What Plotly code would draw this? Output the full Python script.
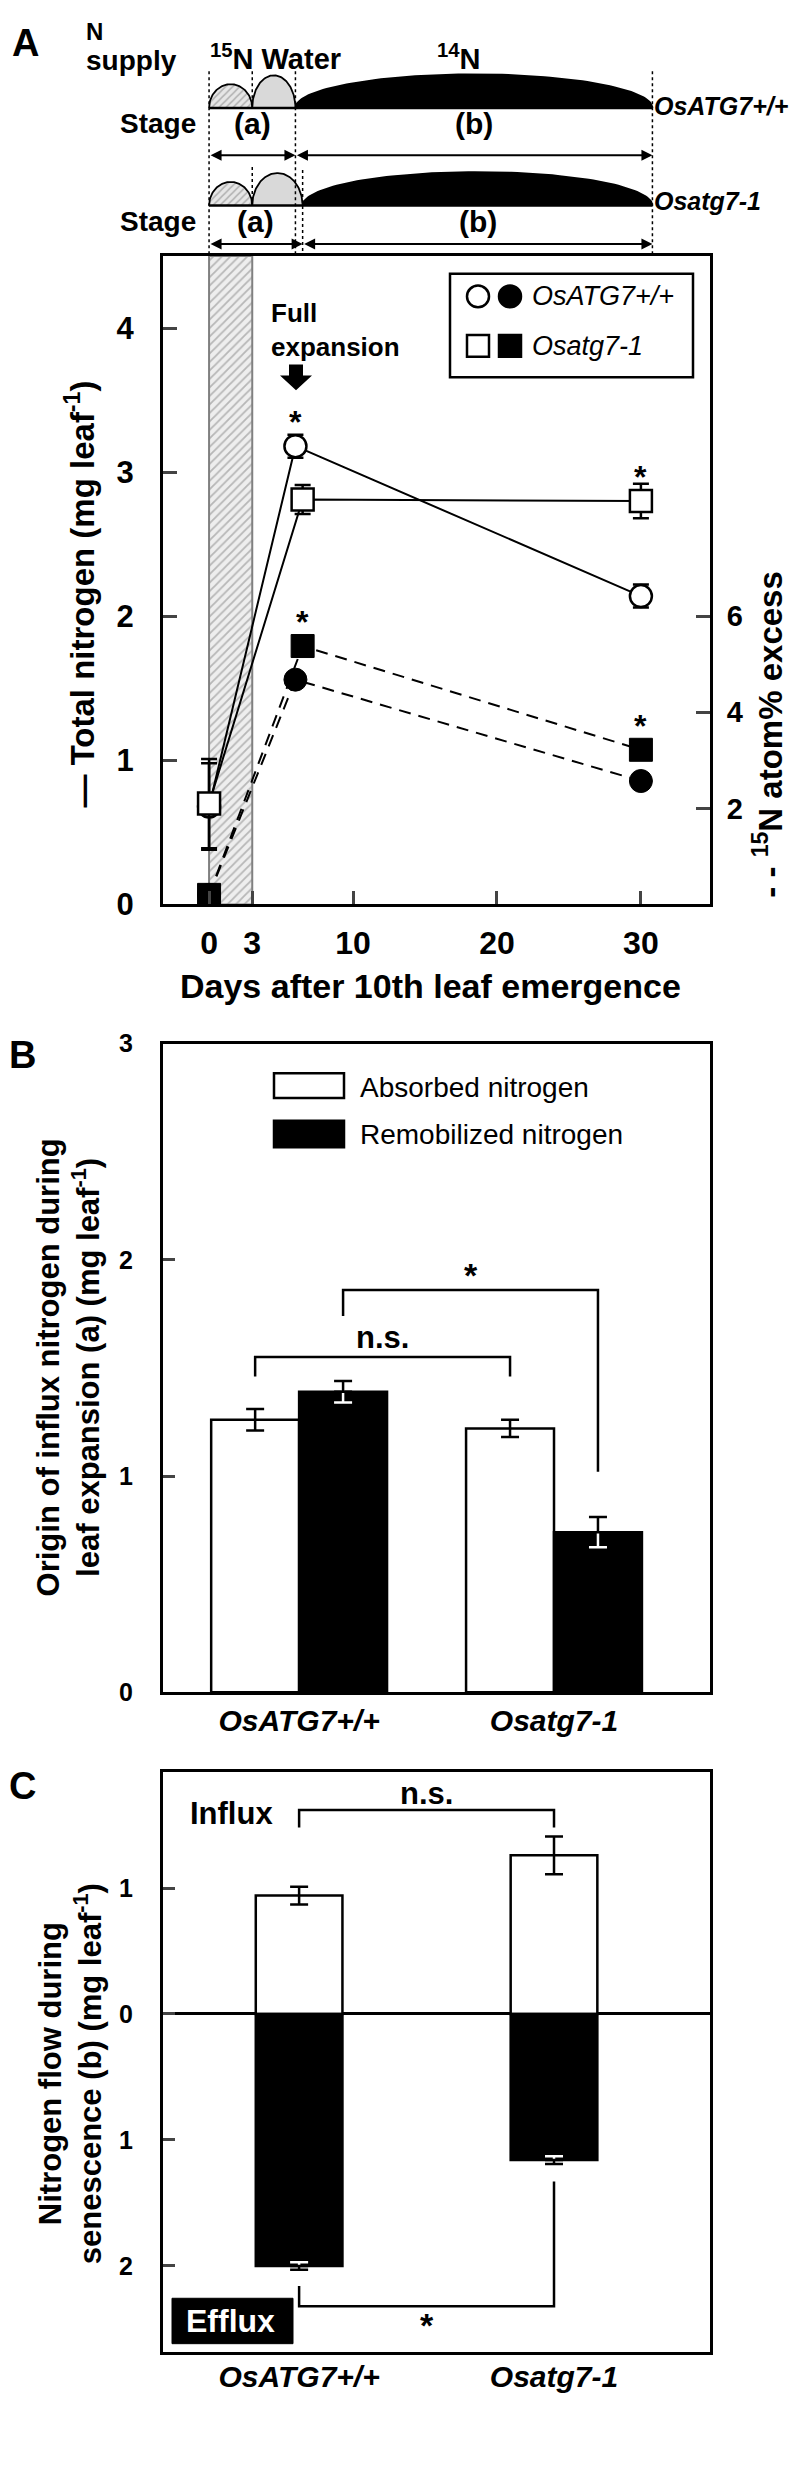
import numpy as np
import plotly.graph_objects as go

W, H = 797, 2482
def fx(px): return px / W
def fy(py): return 1 - py / H

# ---------------- Data: panel A ----------------
days_wt = [0, 6, 30]
total_n_wt = [0.68, 3.18, 2.14]
total_n_wt_err = [0.30, 0.08, 0.08]
atom_wt = [0.20, 4.68, 2.57]

days_mut = [0, 6.5, 30]
total_n_mut = [0.70, 2.81, 2.80]
total_n_mut_err = [0.31, 0.10, 0.12]
atom_mut = [0.20, 5.38, 3.22]

x_ticks_a = [0, 3, 10, 20, 30]
y_ticks_a = [0, 1, 2, 3, 4]
y2_ticks_a = [2, 4, 6]
label_period = [0, 3]          # 15N labelling (days)

# schematic stage boundaries (days)
stage_wt = [0, 3, 6, 30.8]
stage_mut = [0, 3, 6.5, 30.8]

# ---------------- Data: panel B ----------------
genotypes = ["OsATG7+/+", "Osatg7-1"]
absorbed = [1.26, 1.22]
absorbed_err = [0.05, 0.04]
remobilized = [1.39, 0.74]
remobilized_err = [0.05, 0.07]

# ---------------- Data: panel C ----------------
influx = [0.94, 1.26]
influx_err = [0.07, 0.15]
efflux = [2.00, 1.16]
efflux_err = [0.03, 0.03]

BOLD = "Liberation Sans, Arial, sans-serif"

fig = go.Figure()

# ---------- Schematic (top) ----------
def hump(x0, x1, h, base, n=90):
    t = np.linspace(0, np.pi, n)
    xs = (x0 + x1) / 2 - (x1 - x0) / 2 * np.cos(t)
    ys = base - h * np.sin(t)
    return xs, ys

for bounds, base in [(stage_wt, 87), (stage_mut, 186)]:
    heights = [24, 33, 34]
    fills = [None, '#d9d9d9', 'black']
    for i in range(3):
        xs, ys = hump(bounds[i], bounds[i + 1], heights[i], base)
        kw = dict(fillcolor=fills[i]) if fills[i] else dict(
            fillpattern=dict(shape='/', fgcolor='#7a7a7a', bgcolor='#e6e6e6', size=5, solidity=0.3))
        fig.add_trace(go.Scatter(x=xs, y=ys, mode='lines', fill='toself',
                                 line=dict(color='black', width=1.8), xaxis='x4', yaxis='y5',
                                 showlegend=False, hoverinfo='skip', **kw))
    fig.add_trace(go.Scatter(x=[bounds[0], bounds[-1]], y=[base, base], mode='lines',
                             line=dict(color='black', width=2.5), xaxis='x4', yaxis='y5',
                             showlegend=False, hoverinfo='skip'))

dx, dy = [], []
for xv, y0, y1 in [(stage_wt[0], 50, 237), (stage_wt[1], 50, 88), (stage_wt[2], 50, 237),
                   (stage_wt[3], 50, 237), (stage_mut[1], 147, 187), (stage_mut[2], 150, 237)]:
    dx += [xv, xv, None]
    dy += [y0, y1, None]
fig.add_trace(go.Scatter(x=dx, y=dy, mode='lines', line=dict(color='black', width=1.5, dash='dot'),
                         xaxis='x4', yaxis='y5', showlegend=False, hoverinfo='skip'))

annotations = []
shapes = []

def ann(text, x, y, size, weight='bold', xanchor='center', yanchor='middle',
        xref='paper', yref='paper', color='black', style='normal', textangle=0, align='center'):
    if xref == 'paper':
        x = fx(x)
    if yref == 'paper':
        y = fy(y)
    annotations.append(dict(text=text, x=x, y=y, xref=xref, yref=yref, showarrow=False,
                            xanchor=xanchor, yanchor=yanchor, textangle=textangle, align=align,
                            font=dict(family=BOLD, size=size, color=color, weight=weight, style=style)))

for bounds, yarr, ytxt, ylab, name in [(stage_wt, 135, 103, 85, genotypes[0]),
                                        (stage_mut, 225, 202, 181, genotypes[1])]:
    for a, b in [(bounds[0], bounds[2]), (bounds[2], bounds[3])]:
        annotations.append(dict(x=b, y=yarr, ax=a, ay=yarr, xref='x4', yref='y5', axref='x4', ayref='y5',
                                text='', showarrow=True, arrowhead=2, arrowside='end+start',
                                arrowsize=1.1, arrowwidth=2, arrowcolor='black', standoff=0, startstandoff=0))
    ann('Stage', 150, ytxt, 28)
    ann('(a)', (bounds[0] + bounds[2]) / 2, ytxt, 30, xref='x4')
    ann('(b)', (bounds[2] + bounds[3]) / 2, ytxt, 30, xref='x4')
    ann(name, 644, ylab, 25, style='italic', xanchor='left')

ann('A', 17, 21, 38)
ann('N', 76, 10, 24, xanchor='left')
ann('supply', 76, 39, 28, xanchor='left')
ann('<sup>15</sup>N Water', 200, 35, 29, xanchor='left')
ann('<sup>14</sup>N', 451, 35, 29)

# ---------- Panel A ----------
fig.add_trace(go.Bar(x=[np.mean(label_period)], y=[4.5], width=[label_period[1] - label_period[0]],
                     base=0, xaxis='x', yaxis='y', showlegend=False, hoverinfo='skip',
                     marker=dict(color='#e6e6e6', line=dict(color='#808080', width=2),
                                 pattern=dict(shape='/', fgcolor='#808080', bgcolor='#eeeeee',
                                              size=6, solidity=0.3))))

for xs, ys, sym in [(days_wt, atom_wt, 'circle'), (days_mut, atom_mut, 'square')]:
    fig.add_trace(go.Scatter(x=xs, y=ys, mode='lines+markers', xaxis='x', yaxis='y2',
                             line=dict(color='black', width=2, dash='12px,8px'),
                             marker=dict(symbol=sym, size=23, color='black', line=dict(color='black', width=1)),
                             showlegend=False))
for xs, ys, es, sym in [(days_wt, total_n_wt, total_n_wt_err, 'circle'),
                        (days_mut, total_n_mut, total_n_mut_err, 'square')]:
    fig.add_trace(go.Scatter(x=xs, y=ys, mode='lines+markers', xaxis='x', yaxis='y',
                             line=dict(color='black', width=2),
                             error_y=dict(type='data', array=es, color='black', thickness=2.5, width=8),
                             marker=dict(symbol=sym, size=22, color='white', line=dict(color='black', width=2.5)),
                             showlegend=False))

# significance stars (panel A)
for xv, yv, yr in [(days_wt[1], total_n_wt[1], 'y'), (days_mut[1], atom_mut[1], 'y2'),
                   (days_mut[2], total_n_mut[2], 'y'), (days_mut[2], atom_mut[2], 'y2')]:
    annotations.append(dict(text='*', x=xv, y=yv, xref='x', yref=yr, showarrow=False, yshift=24,
                            font=dict(family=BOLD, size=32, color='black', weight='bold')))

# full expansion label + block arrow
ann('Full<br>expansion', 261, 312, 26, xanchor='left', align='left')
ax0 = 288
pts = [(ax0 - 7, 347), (ax0 + 7, 347), (ax0 + 7, 358), (ax0 + 16, 358), (ax0, 373), (ax0 - 16, 358), (ax0 - 7, 358)]
shapes.append(dict(type='path', xref='paper', yref='paper', fillcolor='black', line=dict(width=0),
                   path='M ' + ' L '.join(f'{fx(a)},{fy(b)}' for a, b in pts) + ' Z'))

# legend box (panel A)
shapes.append(dict(type='rect', xref='paper', yref='paper', x0=fx(442), x1=fx(685), y0=fy(255), y1=fy(360),
                   line=dict(color='black', width=2.5), fillcolor='white'))
r = 11
for cx, cy, kind, fill in [(470, 278, 'circle', 'white'), (502, 278, 'circle', 'black'),
                           (470, 328, 'rect', 'white'), (502, 328, 'rect', 'black')]:
    shapes.append(dict(type=kind, xref='paper', yref='paper', x0=fx(cx - r), x1=fx(cx + r),
                       y0=fy(cy - r), y1=fy(cy + r), fillcolor=fill, line=dict(color='black', width=2.5)))
ann(genotypes[0], 522, 278, 27, weight='normal', style='italic', xanchor='left')
ann(genotypes[1], 522, 328, 27, weight='normal', style='italic', xanchor='left')

ann('— Total nitrogen (mg leaf<sup>-1</sup>)', 72, 580, 33, textangle=-90)
ann('- - <sup>15</sup>N atom% excess', 760, 722, 33, textangle=-90)
ann('Days after 10th leaf emergence', 422, 977, 34)

# ---------- Panel B ----------
xw = [i - 0.1725 for i in range(len(genotypes))]
xb = [i + 0.1725 for i in range(len(genotypes))]
fig.add_trace(go.Bar(x=xw, y=absorbed, width=0.345, xaxis='x2', yaxis='y3', showlegend=False,
                     marker=dict(color='white', line=dict(color='black', width=2.5)),
                     error_y=dict(type='data', array=absorbed_err, color='black', thickness=2.5, width=9)))
fig.add_trace(go.Bar(x=xb, y=remobilized, width=0.345, xaxis='x2', yaxis='y3', showlegend=False,
                     marker=dict(color='black', line=dict(color='black', width=2.5)),
                     error_y=dict(type='data', array=remobilized_err, color='white', thickness=2.5, width=9)))
fig.add_trace(go.Scatter(x=xb, y=remobilized, mode='markers', xaxis='x2', yaxis='y3', showlegend=False,
                         marker=dict(size=1, color='rgba(0,0,0,0)'),
                         error_y=dict(type='data', symmetric=False, array=remobilized_err,
                                      arrayminus=[0] * len(xb), color='black', thickness=2.5, width=9)))

# brackets panel B (n.s.: absorbed vs absorbed, *: remobilized vs remobilized)
br_ns_b = [1.46, 1.55, 1.46]
br_st_b = [1.74, 1.86, 1.02]
fig.add_trace(go.Scatter(x=[xw[0], xw[0], xw[1], xw[1]], y=[br_ns_b[0], br_ns_b[1], br_ns_b[1], br_ns_b[2]],
                         mode='lines', line=dict(color='black', width=2.5), xaxis='x2', yaxis='y3', showlegend=False))
fig.add_trace(go.Scatter(x=[xb[0], xb[0], xb[1], xb[1]], y=[br_st_b[0], br_st_b[1], br_st_b[1], br_st_b[2]],
                         mode='lines', line=dict(color='black', width=2.5), xaxis='x2', yaxis='y3', showlegend=False))
ann('n.s.', (xw[0] + xw[1]) / 2, 1.64, 31, xref='x2', yref='y3')
ann('*', (xb[0] + xb[1]) / 2, 1.93, 34, xref='x2', yref='y3')

ann('B', 15, 1046, 38)
ann('Origin of influx nitrogen during<br>leaf expansion (a) (mg leaf<sup>-1</sup>)', 60, 1363, 31, textangle=-90)
shapes.append(dict(type='rect', xref='paper', yref='paper', x0=fx(266), x1=fx(336), y0=fy(1065), y1=fy(1090),
                   line=dict(color='black', width=2.5), fillcolor='white'))
shapes.append(dict(type='rect', xref='paper', yref='paper', x0=fx(266), x1=fx(336), y0=fy(1113), y1=fy(1140),
                   line=dict(color='black', width=2.5), fillcolor='black'))
ann('Absorbed nitrogen', 350, 1079, 28, weight='normal', xanchor='left')
ann('Remobilized nitrogen', 350, 1127, 28, weight='normal', xanchor='left')

# ---------- Panel C ----------
xc = list(range(len(genotypes)))
neg_efflux = [-v for v in efflux]
fig.add_trace(go.Bar(x=xc, y=influx, width=0.34, xaxis='x3', yaxis='y4', showlegend=False,
                     marker=dict(color='white', line=dict(color='black', width=2.5)),
                     error_y=dict(type='data', array=influx_err, color='black', thickness=2.5, width=9)))
fig.add_trace(go.Bar(x=xc, y=neg_efflux, width=0.34, xaxis='x3', yaxis='y4', showlegend=False,
                     marker=dict(color='black', line=dict(color='black', width=2.5)),
                     error_y=dict(type='data', array=efflux_err, color='white', thickness=2.5, width=9)))
fig.add_trace(go.Scatter(x=xc, y=neg_efflux, mode='markers', xaxis='x3', yaxis='y4', showlegend=False,
                         marker=dict(size=1, color='rgba(0,0,0,0)'),
                         error_y=dict(type='data', symmetric=False, array=[0] * len(xc),
                                      arrayminus=efflux_err, color='black', thickness=2.5, width=9)))
br_ns_c = [1.48, 1.62, 1.48]
br_st_c = [-2.16, -2.32, -1.33]
fig.add_trace(go.Scatter(x=[xc[0], xc[0], xc[1], xc[1]], y=[br_ns_c[0], br_ns_c[1], br_ns_c[1], br_ns_c[2]],
                         mode='lines', line=dict(color='black', width=2.5), xaxis='x3', yaxis='y4', showlegend=False))
fig.add_trace(go.Scatter(x=[xc[0], xc[0], xc[1], xc[1]], y=[br_st_c[0], br_st_c[1], br_st_c[1], br_st_c[2]],
                         mode='lines', line=dict(color='black', width=2.5), xaxis='x3', yaxis='y4', showlegend=False))
ann('n.s.', 0.5, 1.75, 31, xref='x3', yref='y4')
ann('*', 0.5, -2.47, 34, xref='x3', yref='y4')

ann('C', 15, 1787, 38)
ann('Nitrogen flow during<br>senescence (b) (mg leaf<sup>-1</sup>)', 62, 2079, 31, textangle=-90)
ann('Influx', 180, 1815, 31, xanchor='left')
shapes.append(dict(type='rect', xref='paper', yref='paper', x0=fx(164), x1=fx(285), y0=fy(2306), y1=fy(2352),
                   line=dict(color='black', width=1), fillcolor='black'))
ann('Efflux', 223, 2329, 32, color='white')

# ---------- Layout ----------
frame = dict(showline=True, linewidth=3, linecolor='black', mirror=True, showgrid=False, zeroline=False)
tick_a_x = dict(family=BOLD, size=32, color='black', weight='bold')
tick_a_y = dict(family=BOLD, size=31, color='black', weight='bold')
tick_a_y2 = dict(family=BOLD, size=29, color='black', weight='bold')
tick_bc = dict(family=BOLD, size=25, color='black', weight='bold')
tick_it = dict(family=BOLD, size=30, color='black', weight='bold', style='italic')
xdom = [fx(155), fx(702)]
xr_bc = [-0.534, 1.612]

fig.update_layout(
    width=W, height=H, margin=dict(l=0, r=0, t=0, b=0),
    paper_bgcolor='white', plot_bgcolor='rgba(0,0,0,0)',
    barmode='overlay', showlegend=False,
    xaxis=dict(domain=xdom, range=[-3.2, 34.8], anchor='y', tickvals=x_ticks_a, ticks='inside',
               ticklen=13, tickwidth=3, tickfont=tick_a_x, ticklabelstandoff=8, **frame),
    yaxis=dict(domain=[fy(894), fy(237)], range=[0, 4.5], anchor='x', tickvals=y_ticks_a, ticks='inside',
               ticklen=14, tickwidth=3, tickfont=tick_a_y, ticklabelstandoff=20, **frame),
    yaxis2=dict(overlaying='y', side='right', range=[0, 13.5], anchor='x', tickvals=y2_ticks_a,
                ticks='inside', ticklen=14, tickwidth=3, tickfont=tick_a_y2, ticklabelstandoff=8,
                showline=True, linewidth=3, linecolor='black', showgrid=False, zeroline=False),
    xaxis2=dict(domain=xdom, range=xr_bc, anchor='y3', tickvals=list(range(len(genotypes))),
                ticktext=genotypes, ticks='', tickfont=tick_it, ticklabelstandoff=0, **frame),
    yaxis3=dict(domain=[fy(1692), fy(1035)], range=[0, 3], anchor='x2', tickvals=[0, 1, 2, 3],
                ticks='inside', ticklen=12, tickwidth=3, tickfont=tick_bc, ticklabelstandoff=22, **frame),
    xaxis3=dict(domain=xdom, range=xr_bc, anchor='y4', tickvals=list(range(len(genotypes))),
                ticktext=genotypes, ticks='', tickfont=tick_it, ticklabelstandoff=-4, **frame),
    yaxis4=dict(domain=[fy(2360), fy(1773)], range=[-2.68, 1.92], anchor='x3', tickvals=[-2, -1, 0, 1],
                ticktext=['2', '1', '0', '1'], ticks='inside', ticklen=12, tickwidth=3,
                tickfont=tick_bc, ticklabelstandoff=22,
                showline=True, linewidth=3, linecolor='black', mirror=True, showgrid=False,
                zeroline=True, zerolinewidth=3, zerolinecolor='black'),
    xaxis4=dict(domain=xdom, range=[-3.2, 34.8], anchor='y5', visible=False),
    yaxis5=dict(domain=[fy(237), 1.0], range=[237, 0], anchor='x4', visible=False),
    annotations=annotations, shapes=shapes,
)

fig.write_html("out.html")
